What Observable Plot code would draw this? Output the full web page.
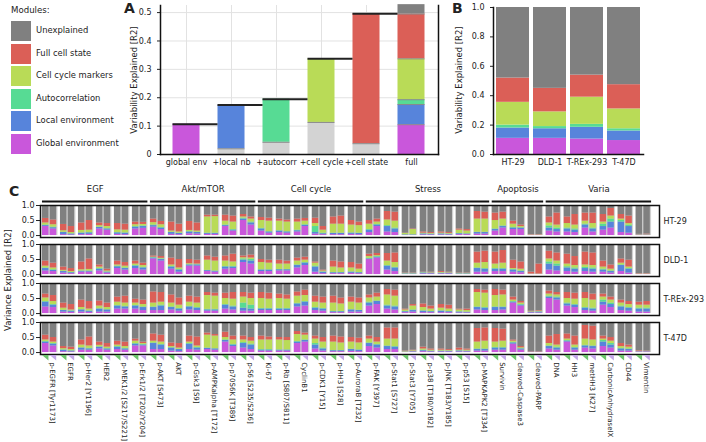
<!DOCTYPE html>
<html><head><meta charset="utf-8">
<script src="https://cdn.jsdelivr.net/npm/d3@7"></script>
<script src="https://cdn.jsdelivr.net/npm/@observablehq/plot@0.6"></script>
<style>
body{margin:0;background:#fff;font-family:"DejaVu Sans",sans-serif;color:#222;}
#root{position:relative;width:706px;height:442px;overflow:hidden;background:#fff;}
.panel{position:absolute;font-weight:bold;font-size:14px;}
.ylab{position:absolute;font-size:8.5px;transform:translate(-50%,-50%) rotate(-90deg);white-space:nowrap;}
.sw{position:absolute;width:20px;height:20px;}
.lt{position:absolute;font-size:8.4px;white-space:nowrap;}
</style></head><body><div id="root"></div>
<script>
// ---------- shared ----------
const modules = ["Unexplained","Full cell state","Cell cycle markers","Autocorrelation","Local environment","Global environment"];
const moduleColors = ["#808080","#db5f57","#b9db57","#57db94","#5784db","#c957db"];
const stackOrder = ["Global environment","Local environment","Autocorrelation","Cell cycle markers","Full cell state"];

// ---------- panel A ----------
const stepLabels = ["global env","+local nb","+autocorr","+cell cycle","+cell state","full"];
const stepModule = ["Global environment","Local environment","Autocorrelation","Cell cycle markers","Full cell state"];
const stepBase = [0, 0.02, 0.043, 0.113, 0.038];
const stepTotal = [0.107, 0.174, 0.195, 0.337, 0.496];
const fullTops = [0.105, 0.176, 0.193, 0.337, 0.495];
const fullUnexplainedTop = 0.528;

// ---------- panel B ----------
const cellLines = ["HT-29","DLD-1","T-REx-293","T-47D"];
const bTops = {
  "HT-29":     [0.11, 0.18, 0.20, 0.355, 0.52],
  "DLD-1":     [0.11, 0.175, 0.19, 0.29, 0.45],
  "T-REx-293": [0.105, 0.185, 0.205, 0.39, 0.54],
  "T-47D":     [0.095, 0.16, 0.175, 0.31, 0.475]
};

// ---------- panel C ----------
const markers = ["p-EGFR [Tyr1173]","EGFR","p-Her2 [Y1196]","HER2","p-MEK1/2 [S217/S221]","p-Erk1/2 [T202/Y204]",
  "p-AKT [S473]","AKT","p-Gsk3 [S9]","p-AMPKalpha [T172]","p-p70S6K [T389]","p-S6 [S235/S236]",
  "Ki-67","p-Rb [S807/S811]","CyclinB1","p-CDK1 [Y15]","p-HH3 [S28]","p-AuroraB [T232]",
  "p-FAK [Y397]","p-Stat1 [S727]","p-Stat3 [Y705]","p-p38 [T180/Y182]","p-JNK [T183/Y185]","p-p53 [S15]","p-MAPKAPK2 [T334]",
  "Survivin","cleaved-Caspase3","cleaved-PARP",
  "DNA","HH3","metHH3 [K27]","CarbonicAnhydraseIX","CD44","Vimentin"];
const groups = ["EGF","Akt/mTOR","Cell cycle","Stress","Apoptosis","Varia"];
const groupFirst = [0, 6, 12, 18, 25, 28];
const groupLast  = [5, 11, 17, 24, 27, 33];
// cumulative tops (%) per marker: [first condition, second condition]; order global, +local, +autocorr, +cell cycle, +full
const cHT29 = [
 [[30,33,35,42,57],[22,26,28,36,52]],[[3,10,11,16,37],[2,5,6,10,30]],[[3,8,9,17,42],[4,9,10,18,50]],
 [[22,27,28,33,42],[18,22,23,30,40]],[[4,9,10,19,40],[3,8,9,18,38]],[[22,28,30,36,45],[24,30,32,37,44]],
 [[28,33,35,43,55],[20,25,27,36,47]],[[4,10,11,15,45],[3,7,8,12,38]],[[6,12,13,17,47],[5,10,11,15,42]],
 [[4,7,8,62,68],[4,7,8,63,68]],[[30,33,35,48,68],[15,18,20,45,65]],[[50,55,58,62,70],[35,42,45,55,62]],
 [[15,22,24,50,60],[8,12,13,48,58]],[[10,15,16,48,55],[8,12,13,45,52]],[[12,16,18,45,55],[30,34,36,48,57]],
 [[5,10,30,40,58],[3,6,8,18,30]],[[3,7,8,38,62],[3,7,8,38,65]],[[4,8,9,35,50],[3,7,8,33,45]],
 [[10,18,20,38,50],[30,35,37,45,55]],[[12,30,33,52,80],[10,22,25,48,78]],[[1,2,3,7,8],[1,2,3,20,22]],
 [[2,5,6,8,12],[2,4,5,7,10]],[[2,5,6,8,12],[2,4,5,7,10]],[[3,6,7,18,22],[3,5,6,15,20]],
 [[5,10,11,55,80],[5,10,11,55,78]],[[15,20,22,50,75],[25,30,32,55,78]],[[20,25,27,38,48],[20,25,26,30,35]],
 [[1,1,1,2,3],[1,1,1,2,3]],[[15,25,32,42,62],[12,20,25,35,75]],[[12,22,25,40,62],[10,18,22,35,70]],
 [[25,35,38,48,75],[12,22,25,40,75]],[[18,30,38,45,70],[25,45,55,65,90]],[[10,45,50,55,70],[8,30,35,40,65]],
 [[1,2,2,3,4],[1,2,2,3,5]]];
const cDLD1 = [
 [[12,20,22,28,45],[10,14,16,22,38]],[[5,10,11,14,25],[3,6,7,10,20]],[[8,11,12,16,42],[8,11,12,17,52]],
 [[12,18,20,25,32],[5,8,9,12,18]],[[20,26,28,32,45],[15,20,22,28,40]],[[20,28,30,35,45],[15,22,24,30,38]],
 [[52,55,57,58,62],[45,50,52,54,60]],[[18,25,27,32,55],[8,15,17,22,50]],[[28,32,33,36,50],[28,32,33,35,48]],
 [[10,13,14,48,62],[8,11,12,45,58]],[[18,25,27,45,62],[20,25,27,42,68]],[[40,48,52,56,62],[35,45,50,55,65]],
 [[10,15,16,40,50],[10,15,16,38,48]],[[12,16,17,35,48],[12,16,17,35,45]],[[22,30,32,45,55],[30,38,40,48,58]],
 [[8,25,28,38,42],[3,8,9,12,15]],[[3,6,7,25,45],[3,6,7,22,42]],[[4,8,9,22,40],[3,6,7,18,35]],
 [[50,52,54,60,68],[55,58,60,63,70]],[[15,28,30,45,70],[10,22,24,40,72]],[[1,2,3,4,5],[1,2,3,4,5]],
 [[2,5,6,7,8],[2,4,5,6,8]],[[2,4,5,7,10],[2,4,5,6,8]],[[1,2,3,4,5],[1,2,3,4,5]],
 [[8,20,22,38,75],[8,18,20,40,78]],[[10,18,20,35,75],[10,18,20,38,80]],[[8,15,17,20,48],[6,10,12,18,42]],
 [[1,1,1,2,8],[1,1,1,2,35]],[[15,35,42,52,78],[12,28,35,45,72]],[[10,22,26,35,68],[8,18,22,30,60]],
 [[10,20,24,32,75],[8,18,22,30,72]],[[8,15,18,25,45],[5,10,12,18,32]],[[10,30,32,38,52],[5,18,20,25,48]],
 [[1,1,1,2,3],[1,1,1,2,3]]];
const cTREx293 = [
 [[22,38,40,52,65],[20,28,30,40,60]],[[5,10,11,18,35],[4,8,9,12,30]],[[5,12,13,20,45],[4,8,9,15,40]],
 [[5,15,16,25,42],[5,12,13,20,35]],[[15,25,27,38,55],[15,22,24,35,58]],[[15,25,27,35,48],[10,20,22,30,45]],
 [[10,20,22,35,72],[10,25,28,38,70]],[[12,20,22,35,62],[8,15,17,28,52]],[[12,22,24,38,58],[10,18,20,35,55]],
 [[8,12,14,60,70],[8,12,14,58,68]],[[15,28,30,50,68],[12,22,25,48,70]],[[8,18,35,55,70],[8,15,28,50,68]],
 [[10,15,17,50,70],[10,15,17,48,68]],[[10,15,17,50,65],[10,15,17,48,62]],[[22,32,34,58,72],[25,38,40,60,78]],
 [[10,18,20,38,58],[8,15,17,35,55]],[[3,6,7,35,58],[3,6,7,32,52]],[[5,12,13,38,55],[5,10,11,35,52]],
 [[25,35,38,52,62],[30,40,42,55,68]],[[15,25,28,62,80],[12,22,25,58,78]],[[3,6,7,12,15],[5,10,12,25,30]],
 [[3,8,9,20,32],[3,6,7,15,25]],[[3,8,9,18,30],[3,6,7,15,28]],[[2,5,6,12,15],[2,4,5,10,15]],
 [[12,20,22,70,80],[10,18,20,68,78]],[[10,20,22,60,80],[12,20,22,62,78]],[[35,38,40,45,55],[25,28,30,35,40]],
 [[2,4,5,6,8],[2,5,6,8,10]],[[50,55,58,65,75],[45,52,55,62,70]],[[25,32,35,50,70],[20,28,30,48,68]],
 [[10,18,20,50,70],[8,15,18,45,65]],[[28,38,45,55,65],[20,30,35,45,55]],[[10,22,25,35,45],[8,18,20,30,40]],
 [[5,15,18,28,38],[5,15,18,28,40]]];
const cT47D = [
 [[30,35,37,42,58],[22,28,30,35,50]],[[3,8,9,13,20],[2,5,6,10,18]],[[8,15,16,25,42],[8,12,14,22,52]],
 [[12,18,19,24,35],[8,12,13,18,30]],[[10,18,20,25,38],[8,12,14,20,35]],[[22,28,30,38,45],[22,25,27,30,35]],
 [[10,30,32,38,62],[10,25,27,35,58]],[[5,15,16,20,32],[3,10,11,15,30]],[[10,28,30,35,55],[8,15,17,22,52]],
 [[10,14,15,58,65],[8,12,13,55,60]],[[35,40,42,50,68],[20,25,27,42,55]],[[15,30,33,42,55],[10,25,28,38,50]],
 [[5,8,10,42,55],[5,8,10,42,52]],[[5,8,9,42,50],[5,8,9,40,50]],[[30,35,37,60,70],[35,40,42,58,65]],
 [[12,25,30,45,55],[5,12,15,35,50]],[[3,6,7,35,55],[3,6,7,32,52]],[[4,10,11,35,50],[3,8,9,32,48]],
 [[20,30,32,45,55],[15,25,27,35,50]],[[10,20,22,45,82],[10,18,20,45,82]],[[1,2,2,4,5],[2,3,4,6,8]],
 [[3,6,8,12,18],[2,4,5,8,12]],[[2,4,5,8,12],[2,4,5,7,10]],[[2,5,6,8,15],[2,4,5,8,12]],
 [[5,10,12,35,80],[5,10,12,38,82]],[[8,15,17,35,80],[8,15,17,38,78]],[[28,32,34,38,42],[8,12,13,16,20]],
 [[1,1,1,1,2],[1,1,1,1,2]],[[12,20,22,30,55],[8,15,18,25,60]],[[35,38,40,45,62],[8,15,17,25,55]],
 [[15,22,24,45,90],[12,20,22,42,88]],[[20,35,40,45,55],[15,25,30,38,50]],[[5,12,14,20,30],[5,10,12,18,25]],
 [[2,3,3,4,6],[2,3,3,4,5]]];
const cData = {"HT-29": cHT29, "DLD-1": cDLD1, "T-REx-293": cTREx293, "T-47D": cT47D};

// ---------- page ----------
const root = document.getElementById("root");
function add(html){ root.insertAdjacentHTML("beforeend", html); }
function place(node, left, top){ node.style.position="absolute"; node.style.left=left+"px"; node.style.top=top+"px"; root.appendChild(node); }
const color = {domain: modules, range: moduleColors};
const baseStyle = {fontFamily: "DejaVu Sans", fontSize: "8px", color: "#222", background: "transparent", overflow: "visible"};

// legend
add(`<div class="lt" style="left:11px;top:5px;font-size:8.6px">Modules:</div>`);
modules.forEach((m,i)=>{
  const cy = 31 + i*22.6;
  add(`<div class="sw" style="left:11px;top:${cy-10}px;background:${moduleColors[i]}"></div>`);
  add(`<div class="lt" style="left:36px;top:${cy-6}px">${m}</div>`);
});

// ---- Panel A ----
const aSegs = [];
stepModule.forEach((m,i)=>{
  if (stepBase[i] > 0) aSegs.push({x:i, y1:0, y2:stepBase[i], fill:"#d3d3d3"});
  aSegs.push({x:i, y1:stepBase[i], y2:stepTotal[i], module:m});
});
let prev = 0;
stackOrder.forEach((m,k)=>{ aSegs.push({x:5, y1:prev, y2:fullTops[k], module:m}); prev = fullTops[k]; });
aSegs.push({x:5, y1:prev, y2:fullUnexplainedTop, module:"Unexplained"});
const aSeps = [];
stepModule.forEach((m,i)=>{ if (stepBase[i] > 0) aSeps.push({x:i, y:stepBase[i]}); });
fullTops.forEach(v=>aSeps.push({x:5, y:v}));
const aLines = stepTotal.map((v,i)=>({x1:i-0.3, x2:i+0.7, y:v}));

const plotA = Plot.plot({
  width: 345, height: 175, marginLeft: 60, marginRight: 7, marginTop: 5, marginBottom: 21,
  style: baseStyle,
  x: {domain: [-0.578, 5.6], ticks: d3.range(6), tickFormat: i => stepLabels[i], tickSize: 0, tickPadding: 5, label: null},
  y: {domain: [0, 0.525], ticks: [0,0.1,0.2,0.3,0.4,0.5], tickFormat: d => d===0 ? "0" : d.toFixed(1), tickSize: 3, label: null},
  color,
  marks: [
    Plot.gridX(d3.range(6), {stroke:"#e2e2e2", strokeOpacity:1}),
    Plot.gridY([0.1,0.2,0.3,0.4,0.5], {stroke:"#e2e2e2", strokeOpacity:1}),
    Plot.rectY(aSegs.filter(d=>d.fill), {x1:d=>d.x-0.3, x2:d=>d.x+0.3, y1:"y1", y2:"y2", fill:"#d3d3d3"}),
    Plot.rectY(aSegs.filter(d=>d.module), {x1:d=>d.x-0.3, x2:d=>d.x+0.3, y1:"y1", y2:"y2", fill:"module"}),
    Plot.ruleY(aSeps, {x1:d=>d.x-0.3, x2:d=>d.x+0.3, y:"y", stroke:"#8a8a8a", strokeWidth:1}),
    Plot.ruleY(aLines, {x1:"x1", x2:"x2", y:"y", stroke:"#222", strokeWidth:2}),
    Plot.frame({anchor:"left", stroke:"#111", strokeWidth:1.5}),
    Plot.frame({anchor:"right", stroke:"#111", strokeWidth:1.5}),
    Plot.frame({anchor:"bottom", stroke:"#111", strokeWidth:1.5})
  ]
});
place(plotA, 100, 0);
add(`<div class="panel" style="left:124px;top:0px">A</div>`);
add(`<div class="ylab" style="left:134px;top:80px">Variability Explained [R2]</div>`);

// ---- Panel B ----
const bSegs = [];
cellLines.forEach(c=>{
  let p = 0;
  stackOrder.forEach((m,k)=>{ bSegs.push({cell:c, y1:p, y2:bTops[c][k], module:m}); p = bTops[c][k]; });
  bSegs.push({cell:c, y1:p, y2:1, module:"Unexplained"});
});
const plotB = Plot.plot({
  width: 261, height: 175, marginLeft: 48, marginRight: 63, marginTop: 7, marginBottom: 21,
  style: baseStyle,
  x: {domain: cellLines, paddingInner: 0.12, paddingOuter: 0.06, tickSize: 0, tickPadding: 5, label: null},
  y: {domain: [0,1], ticks: [0,0.2,0.4,0.6,0.8,1], tickFormat: d3.format(".1f"), tickSize: 3, label: null},
  color,
  marks: [
    Plot.rectY(bSegs, {x:"cell", y1:"y1", y2:"y2", fill:"module"}),
    Plot.frame({anchor:"left", stroke:"#111", strokeWidth:1.5}),
    Plot.frame({anchor:"bottom", stroke:"#111", strokeWidth:1.5})
  ]
});
place(plotB, 445, 0);
add(`<div class="panel" style="left:452px;top:0px">B</div>`);
add(`<div class="ylab" style="left:459px;top:80px">Variability Explained [R2]</div>`);

// ---- Panel C ----
const subW = 0.36, subStep = 0.43, markW = 0.86;
const cBg = [], cSegs = [];
cellLines.forEach(c=>{
  cData[c].forEach((pair,i)=>{
    cBg.push({fy:c, x1:i, x2:i+markW});
    pair.forEach((tops,s)=>{
      const x1 = i + s*subStep, x2 = x1 + subW;
      let p = 0;
      stackOrder.forEach((m,k)=>{ const t = Math.max(p, tops[k]/100); cSegs.push({fy:c, x1, x2, y1:p, y2:t, module:m}); p = t; });
      cSegs.push({fy:c, x1, x2, y1:p, y2:1, module:"Unexplained"});
    });
  });
});
const groupData = groups.map((g,j)=>({fy:"HT-29", name:g, x1:groupFirst[j], x2:groupLast[j]+markW}));
const labelData = markers.map((m,i)=>({fy:"T-47D", name:m, i}));
const triGreen = [], triPurple = [];
markers.forEach((m,i)=>{
  [0,1].forEach(s=>{
    const x1 = i + s*subStep, x2 = x1 + subW;
    const arr = s===0 ? triGreen : triPurple;
    arr.push({fy:"T-47D", id:i, x:x1, y1:-0.1, y2:-0.1});
    arr.push({fy:"T-47D", id:i, x:x2, y1:-0.1, y2:-0.28});
  });
});

const plotC = Plot.plot({
  width: 706, height: 267, marginLeft: 40, marginRight: 47, marginTop: 29, marginBottom: 86,
  style: baseStyle,
  x: {domain: [-0.11, 34.3], axis: null},
  y: {domain: [-0.065, 1], ticks: [0,0.5,1], tickFormat: d3.format(".1f"), tickSize: 4, tickPadding: 2, label: null},
  fy: {domain: cellLines, paddingInner: 0.17, paddingOuter: 0, axis: "right", tickSize: 0, tickPadding: 4, label: null},
  color,
  marks: [
    Plot.rect(cBg, {x1:"x1", x2:"x2", y1:0, y2:1, fy:"fy", fill:"#d0d0d0"}),
    Plot.rect(cSegs, {x1:"x1", x2:"x2", y1:"y1", y2:"y2", fy:"fy", fill:"module"}),
    Plot.frame({stroke:"#111", strokeWidth:1.5}),
    Plot.ruleY(groupData, {x1:"x1", x2:"x2", y:1.13, fy:"fy", stroke:"#111", strokeWidth:2}),
    Plot.text(groupData, {x:d=>(d.x1+d.x2)/2, y:1.55, fy:"fy", text:"name", fontSize:8.5, fill:"#222"}),
    Plot.areaY(triGreen, {x:"x", y1:"y1", y2:"y2", z:"id", fy:"fy", fill:"#6cc46c"}),
    Plot.areaY(triPurple, {x:"x", y1:"y1", y2:"y2", z:"id", fy:"fy", fill:"#c2a6e6"}),
    Plot.text(labelData, {x:d=>d.i+0.55, y:-0.32, fy:"fy", text:"name", rotate:90, textAnchor:"start", fontSize:7, fill:"#222"})
  ]
});
place(plotC, 0, 175);
add(`<div class="panel" style="left:9px;top:183px">C</div>`);
add(`<div class="ylab" style="left:8px;top:280px">Variance Explained [R2]</div>`);
</script>
</body></html>
